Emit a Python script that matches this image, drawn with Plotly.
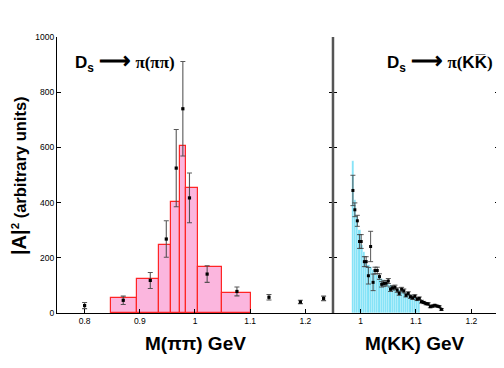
import plotly.graph_objects as go

# left panel: D_s -> pi(pi pi)
pipi_edges = [0.847, 0.895, 0.934, 0.957, 0.972, 0.984, 1.006, 1.049, 1.102]
pipi_hist = [56, 123, 245, 401, 605, 453, 167, 72]

pipi_x = [0.800, 0.870, 0.919, 0.948, 0.966, 0.978, 0.990, 1.022, 1.076, 1.134, 1.191, 1.233]
pipi_y = [27, 46, 118, 268, 525, 740, 417, 141, 78, 57, 40, 53]
pipi_err = [11, 15, 29, 66, 140, 171, 90, 30, 16, 10, 6, 8]

# right panel: D_s -> pi(K Kbar)
kk_centers = [0.986 + 0.004 * i for i in range(31)]
kk_hist = [552, 410, 350, 300, 245, 220, 190, 175, 165, 155, 145, 138, 130, 124, 118,
           112, 106, 101, 96, 92, 88, 84, 80, 76, 72, 68, 64, 60, 57, 54, 50]

kk_x = [0.986, 0.9895, 0.994, 0.998, 1.001, 1.0067, 1.010, 1.014, 1.018, 1.0225, 1.026,
        1.030, 1.034, 1.038, 1.042, 1.046, 1.050, 1.054, 1.0576, 1.062, 1.066, 1.0697,
        1.074, 1.078, 1.082, 1.086, 1.090, 1.094, 1.098, 1.102, 1.106, 1.110, 1.114,
        1.118, 1.122, 1.126, 1.130, 1.134, 1.138, 1.142, 1.146]
kk_y = [444, 374, 334, 259, 259, 186, 186, 135, 241, 111, 154, 154, 132, 104, 107, 108,
        116, 86, 91, 93, 83, 71, 86, 80, 64, 71, 59, 55, 61, 50, 53, 41, 38, 34, 33, 23,
        25, 28, 25, 23, 13]
kk_err = [55, 25, 20, 25, 25, 18, 18, 30, 55, 30, 12, 12, 10, 10, 10, 10, 9, 8, 8, 8, 8,
          7, 7, 7, 6, 6, 6, 6, 5, 5, 5, 5, 4, 4, 4, 4, 4, 3, 3, 3, 3]

y_ticks = [0, 200, 400, 600, 800, 1000]
split = 0.6244
font = "Liberation Sans, Arial, sans-serif"

centers = [(a + b) / 2 for a, b in zip(pipi_edges[:-1], pipi_edges[1:])]
widths = [b - a for a, b in zip(pipi_edges[:-1], pipi_edges[1:])]

fig = go.Figure()

fig.add_trace(go.Bar(
    x=centers, y=pipi_hist, width=widths,
    marker=dict(color="#fbb6de", line=dict(color="#ff2525", width=1.2)),
    xaxis="x", yaxis="y", showlegend=False,
))
fig.add_trace(go.Scatter(
    x=pipi_x, y=pipi_y, mode="markers",
    marker=dict(symbol="square", size=3.2, color="black"),
    error_y=dict(type="data", array=pipi_err, color="rgba(70,70,70,0.9)", thickness=1.1, width=2.5),
    xaxis="x", yaxis="y", showlegend=False,
))

fig.add_trace(go.Bar(
    x=kk_centers, y=kk_hist, width=0.004,
    marker=dict(color="#7fe2f7", line=dict(color="rgba(255,255,255,0.6)", width=0.4)),
    xaxis="x2", yaxis="y2", showlegend=False,
))
fig.add_trace(go.Scatter(
    x=kk_x, y=kk_y, mode="markers",
    marker=dict(symbol="square", size=3, color="black"),
    error_y=dict(type="data", array=kk_err, color="rgba(70,70,70,0.9)", thickness=1.0, width=2.5),
    xaxis="x2", yaxis="y2", showlegend=False,
))

axis_common = dict(
    showgrid=False, zeroline=False, ticks="inside", ticklen=4,
    showline=True, linecolor="black", linewidth=1.3, tickcolor="black",
    tickfont=dict(family=font, size=8.5, color="black"),
)

# the page body adds an 8px offset, so the margins are shifted to compensate
fig.update_layout(
    width=504, height=368,
    margin=dict(l=49, r=13, t=29, b=63),
    paper_bgcolor="white", plot_bgcolor="white",
    bargap=0,
    xaxis=dict(domain=[0, split], range=[0.75, 1.25], anchor="y",
               tickvals=[0.8, 0.9, 1.0, 1.1, 1.2], ticktext=["0.8", "0.9", "1", "1.1", "1.2"],
               **axis_common),
    yaxis=dict(range=[0, 1000], tickvals=y_ticks, anchor="x", mirror="ticks", **axis_common),
    xaxis2=dict(domain=[split, 1], range=[0.95, 1.25], anchor="y2",
                tickvals=[1.0, 1.1, 1.2], ticktext=["1", "1.1", "1.2"], **axis_common),
    yaxis2=dict(range=[0, 1000], tickvals=y_ticks, anchor="x2", mirror="ticks",
                showticklabels=False, **axis_common),
)

# divider between the panels
fig.add_shape(type="line", xref="paper", yref="paper", x0=split, x1=split, y0=0, y1=1,
              line=dict(color="#555555", width=2.5), layer="above")

title_font = dict(family=font, size=17, color="black")
serif = "font-family:Liberation Serif, DejaVu Serif, serif"
arrow = "<span style='font-size:22px'>⟶</span>"
fig.add_annotation(
    text="<b>D<sub>s</sub> " + arrow + " </b><span style='" + serif + "'><b>π(ππ)</b></span>",
    xref="paper", yref="paper", x=0.036, y=0.911, xanchor="left", yanchor="middle",
    showarrow=False, font=title_font,
)
fig.add_annotation(
    text="<b>D<sub>s</sub> " + arrow + " </b><span style='" + serif + "'><b>π(</b></span><b>KK\u0305</b><span style='" + serif + "'><b>)</b></span>",
    xref="paper", yref="paper", x=0.742, y=0.911, xanchor="left", yanchor="middle",
    showarrow=False, font=title_font,
)

xtitle_font = dict(family=font, size=19, color="black")
fig.add_annotation(
    text="<b>M(ππ) GeV</b>", xref="paper", yref="paper", x=0.3136, y=-0.109,
    xanchor="center", yanchor="middle", showarrow=False, font=xtitle_font,
)
fig.add_annotation(
    text="<b>M(KK) GeV</b>", xref="paper", yref="paper", x=0.81, y=-0.109,
    xanchor="center", yanchor="middle", showarrow=False, font=xtitle_font,
)
fig.add_annotation(
    text="<b><span style='font-size:20px'>|A|</span><sup>2</sup> (arbitrary units)</b>",
    xref="paper", yref="paper", x=-0.086, y=0.5, textangle=-90,
    xanchor="center", yanchor="middle", showarrow=False, font=dict(family=font, size=16.5, color="black"),
)

fig.write_html("out.html")
